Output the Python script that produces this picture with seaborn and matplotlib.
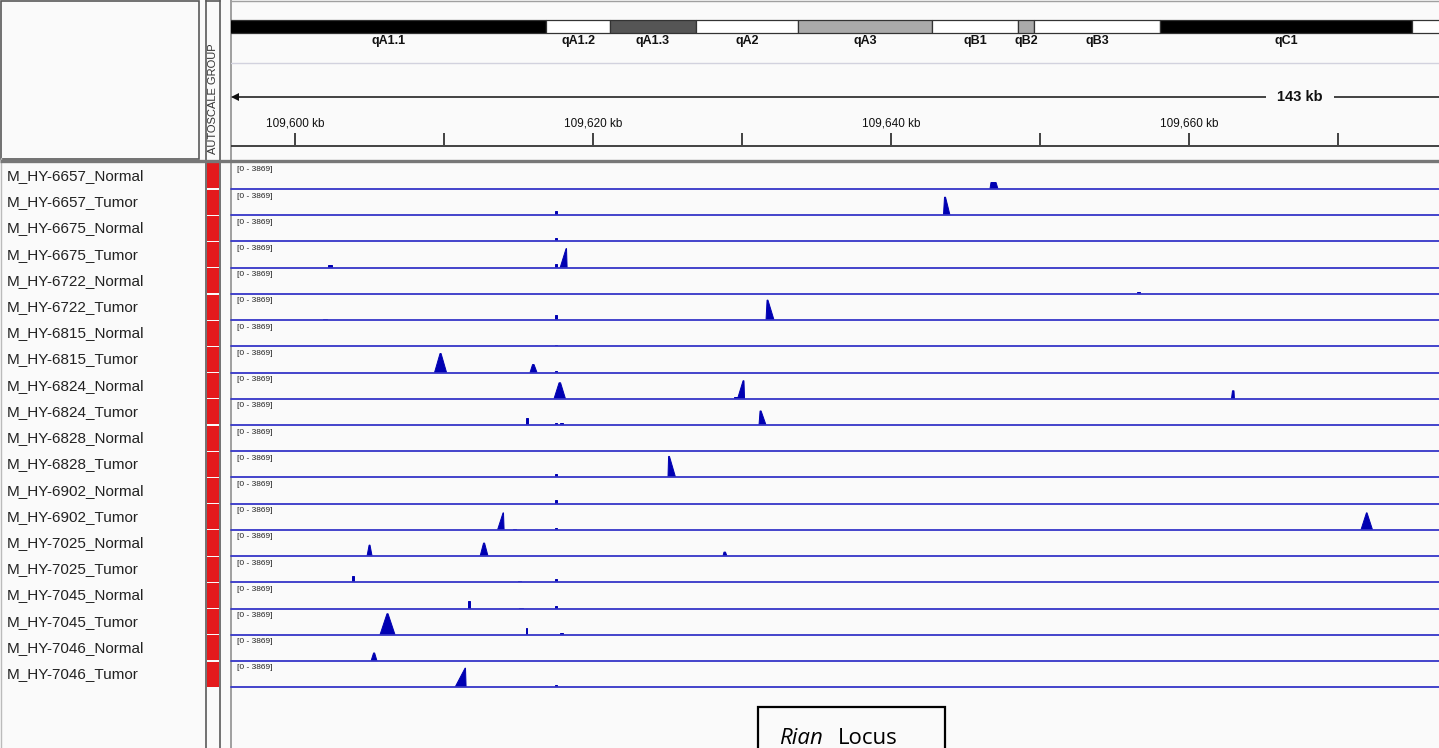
import matplotlib
matplotlib.use("Agg")
import matplotlib.pyplot as plt
from matplotlib.patches import Rectangle, Polygon
import seaborn as sns

sns.set_theme(style="white")
plt.rcParams["font.family"] = ["Liberation Sans", "DejaVu Sans"]

# ---- data -------------------------------------------------------------
samples = [
    "M_HY-6657_Normal", "M_HY-6657_Tumor", "M_HY-6675_Normal", "M_HY-6675_Tumor",
    "M_HY-6722_Normal", "M_HY-6722_Tumor", "M_HY-6815_Normal", "M_HY-6815_Tumor",
    "M_HY-6824_Normal", "M_HY-6824_Tumor", "M_HY-6828_Normal", "M_HY-6828_Tumor",
    "M_HY-6902_Normal", "M_HY-6902_Tumor", "M_HY-7025_Normal", "M_HY-7025_Tumor",
    "M_HY-7045_Normal", "M_HY-7045_Tumor", "M_HY-7046_Normal", "M_HY-7046_Tumor",
]
data_range = 3869
view_start, view_end = 109595.70, 109676.78
span_label = "143 kb"

major_ticks = [109600, 109620, 109640, 109660]
minor_ticks = [109610, 109630, 109650, 109670]

band_names  = ["qA1.1", "qA1.2", "qA1.3", "qA2", "qA3", "qB1", "qB2", "qB3", "qC1", "qC2"]
band_starts = [109580.0, 109616.85, 109621.14, 109626.91, 109633.76, 109642.75, 109648.52, 109649.60, 109658.05, 109674.97]
band_ends   = [109616.85, 109621.14, 109626.91, 109633.76, 109642.75, 109648.52, 109649.60, 109658.05, 109674.97, 109690.0]
band_stains = ["#000000", "#ffffff", "#555555", "#ffffff", "#aaaaaa", "#ffffff", "#aaaaaa", "#ffffff", "#000000", "#ffffff"]

# each peak: (start kb, top start kb, top end kb, end kb, coverage)
tick_555 = (109617.42, 109617.42, 109617.55, 109617.55)
p_6657_n = [(109646.64, 109646.71, 109647.05, 109647.18, 960)]
p_6657_t = [tick_555 + (590,), (109643.52, 109643.59, 109643.66, 109643.96, 2660)]
p_6675_n = [tick_555 + (440,)]
p_6675_t = [(109602.21, 109602.21, 109602.48, 109602.48, 440), tick_555 + (590,),
            (109617.79, 109618.19, 109618.22, 109618.26, 2810)]
p_6722_n = [(109656.51, 109656.51, 109656.71, 109656.71, 220)]
p_6722_t = [(109601.88, 109601.88, 109602.15, 109602.15, 150), tick_555 + (740,),
            (109631.61, 109631.68, 109631.74, 109632.15, 2950)]
p_6815_n = [tick_555 + (220,)]
p_6815_t = [(109609.36, 109609.73, 109609.80, 109610.17, 2810),
            (109615.77, 109615.94, 109616.04, 109616.24, 1180), tick_555 + (220,)]
p_6824_n = [(109617.38, 109617.72, 109617.82, 109618.15, 2360),
            (109629.46, 109629.46, 109629.73, 109629.73, 190),
            (109629.70, 109630.07, 109630.13, 109630.17, 2660),
            (109662.85, 109662.92, 109663.02, 109663.05, 1180)]
p_6824_t = [(109615.50, 109615.50, 109615.64, 109615.64, 1030), tick_555 + (300,),
            (109617.79, 109617.79, 109617.99, 109617.99, 300),
            (109631.14, 109631.21, 109631.28, 109631.61, 2070)]
p_6828_n = []
p_6828_t = [tick_555 + (440,), (109625.03, 109625.07, 109625.13, 109625.54, 3100)]
p_6902_n = [tick_555 + (590,)]
p_6902_t = [(109613.59, 109613.96, 109613.99, 109614.03, 2510),
            (109614.63, 109614.63, 109614.83, 109614.83, 150), tick_555 + (220,),
            (109671.54, 109671.91, 109671.95, 109672.32, 2510)]
p_7025_n = [(109604.83, 109604.97, 109605.03, 109605.17, 1620),
            (109612.42, 109612.65, 109612.72, 109612.95, 1920),
            (109628.72, 109628.79, 109628.89, 109628.99, 590)]
p_7025_t = [(109603.83, 109603.83, 109603.96, 109603.96, 890),
            (109614.97, 109614.97, 109615.17, 109615.17, 150), tick_555 + (440,)]
p_7045_n = [(109611.58, 109611.58, 109611.71, 109611.71, 1180),
            (109615.03, 109615.03, 109615.30, 109615.30, 150), tick_555 + (440,)]
p_7045_t = [(109605.70, 109606.17, 109606.24, 109606.71, 3100),
            (109615.47, 109615.47, 109615.60, 109615.60, 1030),
            (109617.79, 109617.79, 109617.99, 109617.99, 300)]
p_7046_n = [(109605.10, 109605.27, 109605.34, 109605.50, 1180)]
p_7046_t = [(109610.74, 109611.41, 109611.44, 109611.48, 2810), tick_555 + (300,)]

track_peaks = [p_6657_n, p_6657_t, p_6675_n, p_6675_t, p_6722_n, p_6722_t,
               p_6815_n, p_6815_t, p_6824_n, p_6824_t, p_6828_n, p_6828_t,
               p_6902_n, p_6902_t, p_7025_n, p_7025_t, p_7045_n, p_7045_t,
               p_7046_n, p_7046_t]

# ---- layout -----------------------------------------------------------
W, H = 1439, 748
BG = "#fafafa"
FRAME = "#5a5a5a"
PEAK = "#0000b2"
BASE = "#3535c8"
TRACK_TOP, TRACK_H = 162.8, 26.22
DATA_X0, DATA_X1 = 231, 1439


def px_axes(fig, x0, y0, x1, y1):
    return fig.add_axes([x0 / W, 1 - y1 / H, (x1 - x0) / W, (y1 - y0) / H])


fig = plt.figure(figsize=(W / 100, H / 100), dpi=100, facecolor=BG)

# base panel in pixel coordinates
base = px_axes(fig, 0, 0, W, H)
base.set_xlim(0, W)
base.set_ylim(H, 0)
base.axis("off")
base.add_patch(Rectangle((0, 0), W, H, fc=BG, ec="none"))

# top-left header box and attribute header
base.add_patch(Rectangle((0.5, 0.5), 198.5, 158, fc=BG, ec=FRAME, lw=1.2))
base.plot([0.5, 0.5], [158, H], color="#bbbbbb", lw=1)
base.plot([206, 206], [0, H], color=FRAME, lw=1.2)
base.plot([220, 220], [0, H], color=FRAME, lw=1.2)
base.plot([206, 220], [0.5, 0.5], color=FRAME, lw=1.2)
base.plot([DATA_X0, DATA_X0], [0, H], color="#909090", lw=1.2)
base.plot([DATA_X0, W], [0.5, 0.5], color="#a0a0a0", lw=1)
base.text(213.2, 99, "AUTOSCALE GROUP", rotation=90, ha="center", va="center",
          fontsize=8, color="#333333")

# names and attribute cells
for i, name in enumerate(samples):
    top = TRACK_TOP + i * TRACK_H
    base.text(7, top + TRACK_H / 2, name, ha="left", va="center",
              fontsize=11, color="#222222")
    base.add_patch(Rectangle((207, top + 0.6), 12.4, TRACK_H - 1.2,
                             fc="#e41a1c", ec="none"))

# thick separator under the header
base.plot([0, W], [160.5, 160.5], color="#777777", lw=2.4, solid_capstyle="butt")

# Rian locus box
base.add_patch(Rectangle((758, 707), 187, 60, fc=BG, ec="black", lw=1.6, clip_on=True))
base.text(779, 744, "Rian", style="italic", ha="left", va="baseline",
          fontsize=16, family=["Open Sans", "DejaVu Sans"], color="black")
base.text(838, 744, "Locus", ha="left", va="baseline",
          fontsize=16, family=["Open Sans", "DejaVu Sans"], color="black")

# header: cytoband ideogram + ruler
hdr = px_axes(fig, DATA_X0, 0, DATA_X1, 158)
hdr.set_xlim(view_start, view_end)
hdr.set_ylim(158, 0)
hdr.axis("off")
for name, s, e, c in zip(band_names, band_starts, band_ends, band_stains):
    hdr.add_patch(Rectangle((s, 20), e - s, 12.5, fc=c, ec="#333333", lw=0.9))
    if e <= view_end:
        cx = (max(s, view_start) + min(e, view_end)) / 2
        hdr.text(cx, 41, name, ha="center", va="center", fontsize=9,
                 fontweight="bold", color="#111111")
hdr.axhline(63, color="#d2d2de", lw=1)

hdr.plot([view_start + 0.15, view_end], [96.5, 96.5], color="#111111", lw=1.1)
hdr.plot([view_start + 0.25], [96.5], marker="<", ms=6, color="#111111", mew=0)
hdr.text(109667.45, 97, span_label, ha="center", va="center", fontsize=10.5,
         fontweight="bold", color="#111111",
         bbox=dict(boxstyle="square,pad=0.8", fc=BG, ec="none"))

hdr.vlines(major_ticks + minor_ticks, 133, 145, color="#111111", lw=1.1)
for t in major_ticks:
    hdr.text(t, 123, f"{t:,} kb", ha="center", va="center", fontsize=8.5,
             color="#111111")
hdr.axhline(146, color="#333333", lw=1.3)

# coverage tracks
for i, peaks in enumerate(track_peaks):
    top = TRACK_TOP + i * TRACK_H
    ax = px_axes(fig, DATA_X0, top, DATA_X1, top + TRACK_H)
    ax.set_xlim(view_start, view_end)
    ax.set_ylim(0, data_range)
    ax.axis("off")
    for x0, p0, p1, x1, v in peaks:
        ax.add_patch(Polygon([(x0, 0), (p0, v), (p1, v), (x1, 0)], closed=True,
                             fc=PEAK, ec=PEAK, lw=0.7))
    ax.axhline(0, color=BASE, lw=1.3, clip_on=False)
    ax.text(6 / (DATA_X1 - DATA_X0), 1 - 7 / TRACK_H, f"[0 - {data_range}]",
            transform=ax.transAxes, ha="left", va="center", fontsize=6,
            color="#222222")

fig.savefig("out.png", dpi=100, facecolor=BG)
